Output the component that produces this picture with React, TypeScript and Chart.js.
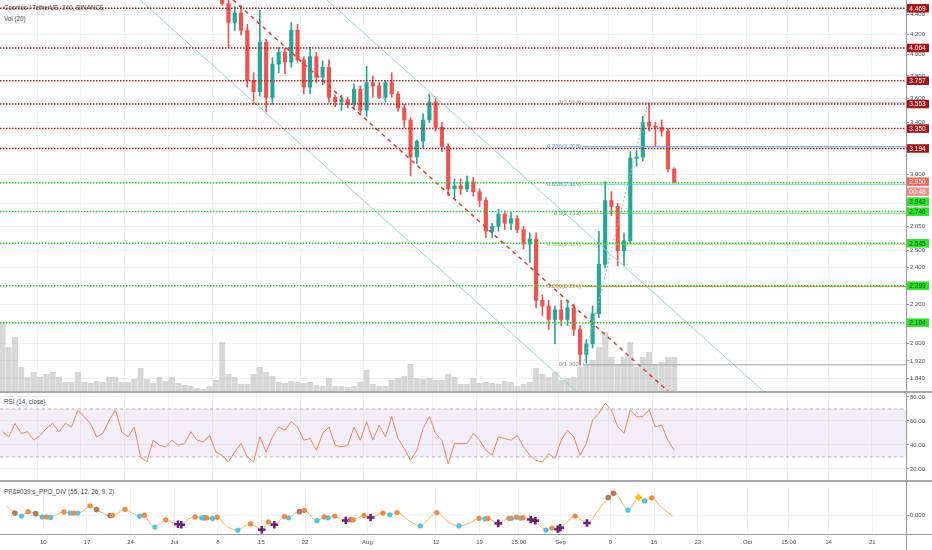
import React, { useEffect, useRef } from "react";
import { Chart, registerables } from "chart.js";

Chart.register(...registerables);

// ---------------- data (days are counted from 2019-06-01) ----------------
const VIEW_START = 3.106; // left edge of the plots
const VIEW_END = 147.42; // right edge of the plots
const xTickDays = [9, 16, 23, 30, 37, 44, 51, 61, 72, 79, 85.3, 92, 100, 107, 114, 122, 128.6, 135, 142];
const xTickLabels = ["10", "17", "24", "Jul", "8", "15", "22", "Aug", "12", "19", "15:00", "Sep", "9", "16", "23", "Oct", "15:00", "14", "21"];

// daily candles from 2019-07-09 (day 38)
const CANDLE_FIRST_DAY = 38;
const opens = [4.65, 4.52, 4.32, 4.42, 4.24, 3.76, 3.66, 4.12, 3.61, 3.91, 4.02, 3.93, 4.24, 3.95, 3.70, 3.98, 3.79, 3.88, 3.61, 3.57, 3.59, 3.55, 3.68, 3.50, 3.74, 3.71, 3.61, 3.74, 3.64, 3.52, 3.42, 3.13, 3.25, 3.42, 3.57, 3.36, 3.21, 2.90, 2.92, 2.90, 2.95, 2.88, 2.82, 2.62, 2.65, 2.73, 2.67, 2.70, 2.63, 2.54, 2.57, 2.22, 2.19, 2.12, 2.17, 2.12, 2.18, 2.07, 1.95, 2.00, 2.15, 2.42, 2.82, 2.78, 2.50, 2.56, 3.12, 3.13, 3.40, 3.37, 3.36, 3.33, 3.04];
const highs = [4.75, 4.60, 4.49, 4.50, 4.30, 3.83, 4.45, 4.15, 3.97, 4.07, 4.06, 4.32, 4.30, 3.98, 4.07, 4.02, 3.94, 3.95, 3.63, 3.63, 3.61, 3.73, 3.71, 3.89, 3.80, 3.74, 3.76, 3.83, 3.66, 3.55, 3.44, 3.26, 3.47, 3.64, 3.60, 3.40, 3.23, 2.97, 2.97, 2.99, 2.98, 2.90, 2.84, 2.67, 2.76, 2.75, 2.74, 2.72, 2.65, 2.61, 2.61, 2.25, 2.22, 2.19, 2.22, 2.22, 2.20, 2.09, 2.02, 2.19, 2.62, 2.95, 2.88, 2.80, 2.61, 3.17, 3.18, 3.45, 3.56, 3.40, 3.42, 3.35, 3.05];
const lows = [4.50, 4.07, 4.24, 4.19, 3.70, 3.55, 3.62, 3.49, 3.55, 3.83, 3.82, 3.88, 3.93, 3.64, 3.64, 3.74, 3.72, 3.57, 3.53, 3.50, 3.52, 3.52, 3.47, 3.45, 3.61, 3.60, 3.57, 3.61, 3.49, 3.36, 2.99, 3.08, 3.20, 3.40, 3.33, 3.17, 2.85, 2.83, 2.86, 2.88, 2.85, 2.78, 2.58, 2.58, 2.62, 2.63, 2.63, 2.61, 2.51, 2.43, 2.18, 2.14, 2.07, 2.00, 2.09, 2.09, 2.04, 1.902, 1.91, 1.98, 2.13, 2.40, 2.72, 2.41, 2.41, 2.54, 3.06, 3.10, 3.33, 3.21, 3.29, 3.02, 2.94];
const closes = [4.52, 4.32, 4.42, 4.24, 3.76, 3.66, 4.12, 3.61, 3.91, 4.02, 3.93, 4.24, 3.95, 3.70, 3.98, 3.79, 3.88, 3.61, 3.57, 3.59, 3.55, 3.68, 3.50, 3.74, 3.71, 3.61, 3.74, 3.64, 3.52, 3.42, 3.13, 3.25, 3.42, 3.57, 3.36, 3.21, 2.90, 2.92, 2.90, 2.95, 2.88, 2.82, 2.62, 2.65, 2.73, 2.67, 2.70, 2.63, 2.54, 2.57, 2.22, 2.19, 2.12, 2.17, 2.12, 2.18, 2.07, 1.95, 2.00, 2.15, 2.42, 2.82, 2.78, 2.50, 2.56, 3.12, 3.13, 3.40, 3.37, 3.36, 3.33, 3.04, 2.95];

// daily volume from 2019-06-04 (day 3)
const VOLUME_FIRST_DAY = 3;
const volumes = [70, 45, 55, 25, 15, 20, 15, 18, 20, 15, 10, 10, 20, 10, 9, 11, 10, 15, 15, 10, 10, 13, 24, 13, 9, 15, 11, 15, 9, 7, 6, 4, 3, 6, 12, 50, 18, 15, 8, 8, 18, 25, 20, 16, 10, 9, 11, 10, 9, 10, 7, 6, 14, 6, 6, 5, 6, 10, 22, 8, 6, 6, 12, 14, 16, 28, 14, 13, 14, 12, 12, 18, 15, 8, 8, 14, 9, 10, 9, 8, 11, 10, 6, 8, 10, 24, 18, 15, 20, 12, 14, 15, 25, 27, 32, 45, 60, 35, 28, 35, 50, 25, 35, 40, 28, 30, 35, 35];

// RSI (14, close), daily from day 3
const RSI_FIRST_DAY = 3;
const rsiValues = [51, 46.8, 58, 49.6, 51, 44, 48, 53.8, 58, 51, 58, 55, 69, 63.6, 58, 46.8, 49.6, 60.8, 69, 51, 46.8, 55, 30, 25.8, 44, 39.8, 38.4, 44, 39.8, 41.2, 51, 44, 42.6, 48, 34.2, 31.4, 25.8, 34.2, 41.2, 30, 25.8, 46.8, 34.2, 46.8, 55, 52.4, 59.4, 55, 44, 45.4, 35.6, 49.6, 55, 39.8, 38.4, 39.8, 55, 44, 59.4, 44, 56.6, 46.8, 63.6, 45.4, 37, 27.2, 35.6, 53.8, 63.6, 49.6, 44, 24.4, 41.2, 41.2, 41.2, 49.6, 44, 35.6, 31.4, 46.8, 45.4, 44, 48, 38.4, 31.4, 27.2, 25.8, 32.8, 28.6, 44, 52.4, 46.8, 31.4, 41.2, 60.8, 66.4, 74.8, 69.2, 55.2, 49.6, 69.2, 63.6, 63.6, 69.2, 55.2, 56.6, 44, 35.6];
const rsiTicks = [20, 40, 60, 80];
const RSI_UPPER = 70;
const RSI_LOWER = 30;

// PPO divergence line and markers
const ppoDays = [3.11, 4.43, 5.50, 6.56, 7.78, 8.84, 9.48, 10.17, 11.07, 12.29, 13.30, 13.88, 14.52, 15.58, 16.49, 17.55, 18.77, 19.72, 20.10, 22.11, 23.28, 24.45, 25.19, 25.94, 26.89, 27.80, 28.64, 29.65, 30.61, 31.14, 32.31, 33.37, 34.43, 35.23, 36.13, 36.88, 38.41, 40.22, 41.33, 42.24, 44.04, 45.10, 46.06, 47.71, 48.34, 49.30, 50.10, 50.89, 51.95, 52.91, 54.08, 54.71, 55.77, 56.73, 57.53, 58.75, 60.45, 61.51, 63.47, 64.59, 65.76, 67.62, 69.48, 70.80, 72.13, 73.99, 75.69, 77.33, 78.92, 79.88, 80.36, 82.00, 83.70, 84.13, 84.92, 85.56, 85.93, 87.21, 87.95, 88.75, 89.65, 90.60, 91.56, 91.93, 93.26, 94.32, 95.38, 96.23, 98.04, 99.63, 100.48, 101.22, 102.02, 102.81, 103.61, 104.51, 105.47, 106.64, 108.13, 109.98];
const ppoValues = [1.10, 0.27, -0.07, 0.43, 0.20, -0.17, -0.17, -0.23, 0.10, 0.40, 0.27, 0.27, 0.27, 0.60, 1.10, 0.67, 0.20, 0.00, 0.00, 0.70, 0.27, -0.07, 0.03, -0.73, -1.33, -0.90, -0.50, -0.80, -1.00, -1.07, -0.40, -0.17, -0.27, -0.27, -0.33, -0.20, -1.23, -1.67, -1.23, -0.97, -1.63, -0.73, -1.07, -0.13, -0.27, 0.20, 0.43, 0.57, -0.07, -0.60, -0.17, -0.27, -0.07, -0.40, -0.57, -0.50, 0.00, -0.23, 0.27, 0.07, 0.33, -0.57, -1.20, -0.40, 0.33, -0.73, -1.20, -0.90, -0.33, -0.40, -0.33, -0.90, -0.33, -0.33, -0.20, -0.30, -0.27, -0.47, -0.60, -1.23, -1.67, -1.43, -1.57, -1.40, -0.57, -0.07, -0.57, -0.87, 0.60, 2.03, 2.53, 2.27, 1.27, 0.60, 1.27, 2.03, 1.67, 2.00, 0.93, -0.07];
const ppoOrange = [[6.56, 0.43], [9.48, -0.17], [12.29, 0.40], [13.88, 0.27], [16.49, 1.10], [20.10, 0.00], [22.11, 0.70], [25.19, 0.03], [28.64, -0.50], [33.37, -0.17], [35.23, -0.27], [36.88, -0.20], [42.24, -0.97], [45.10, -0.73], [47.71, -0.13], [50.89, 0.57], [54.08, -0.17], [55.77, -0.07], [58.75, -0.50], [60.45, 0.00], [63.47, 0.27], [65.76, 0.33], [72.13, 0.33], [78.92, -0.33], [80.36, -0.33], [83.70, -0.33], [84.92, -0.20], [85.93, -0.27], [90.60, -1.43], [94.32, -0.07], [106.64, 2.00]];
const ppoCyan = [[5.50, -0.07], [8.84, -0.17], [10.17, -0.23], [13.30, 0.27], [14.52, 0.27], [24.45, -0.07], [26.89, -1.33], [34.43, -0.27], [36.13, -0.33], [40.22, -1.67], [48.34, -0.27], [52.91, -0.60], [54.71, -0.27], [64.59, 0.07], [69.48, -1.20], [75.69, -1.20], [79.88, -0.40], [84.13, -0.33], [85.56, -0.30], [89.65, -1.67], [102.81, 0.60], [105.47, 1.67]];
const ppoBrown = [[4.43, 0.27], [7.78, 0.20], [17.55, 0.67], [19.72, 0.00], [34.86, -0.27], [50.10, 0.43], [58.33, -0.50], [99.63, 2.03], [100.48, 2.53]];
const ppoCross = [[30.61, -1.00], [31.14, -1.07], [44.04, -1.63], [46.06, -1.07], [57.53, -0.57], [61.51, -0.23], [82.00, -0.90], [87.21, -0.47], [87.95, -0.60], [91.56, -1.57], [91.93, -1.40], [96.23, -0.87]];
const ppoDiamond = [[104.51, 2.03]];
const ppoTicks = [0];

// price axis and drawings
const PRICE_MIN = 1.782;
const PRICE_MAX = 4.559;
const priceTicks = [4.4, 4.2, 4.0, 3.8, 3.6, 3.4, 3.2, 3.0, 2.8, 2.65, 2.5, 2.4, 2.2, 2.0, 1.92, 1.84];
const redLevels = [4.469, 4.064, 3.757, 3.553, 3.350, 3.194];
const greenLevels = [2.942, 2.746, 2.545, 2.299, 2.104];
const COUNTDOWN = "00:48";
const FIB_START_DAY = 95.97;
const fibRatios = ["1", "0.786", "0.618", "0.5", "0.382", "0.236", "0"];
const fibPrices = [3.564, 3.208, 2.929, 2.733, 2.537, 2.294, 1.902];
const channelLower = [[25.41, 4.559], [95.17, 1.778]];
const channelUpper = [[55.19, 4.559], [124.64, 1.787]];
const trendLine = [[40.22, 4.559], [109.67, 1.782]];
const fibTrend = [[95.97, 1.902], [106.3, 3.564]];

// ---------------- styles ----------------
const FONT = "'Liberation Sans', Arial, sans-serif";
const GRID = "rgba(0,0,0,0.055)";
const TEXT = "#4a4e59";
const UP = "#26a69a";
const DOWN = "#ef5350";
const fibColors = ["#8f8f8f", "#5b9ee0", "#3fae8f", "#4caf50", "#8bc34a", "#dd7a3c", "#8f8f8f"];
const fibLineColors = ["rgba(150,150,150,0.6)", "#6aa8e6", "rgba(77,182,172,0.6)", "rgba(102,187,106,0.6)", "rgba(156,204,101,0.6)", "#d98a4a", "#a0a0a0"];

Chart.defaults.font.family = FONT;
Chart.defaults.font.size = 6;
Chart.defaults.color = TEXT;

const pts = (arr: number[][]) => arr.map(([x, y]) => ({ x, y }));

function dayAxis(showLabels: boolean): any {
  return {
    type: "linear",
    min: VIEW_START,
    max: VIEW_END,
    bounds: "data",
    offset: false,
    afterBuildTicks: (s: any) => {
      s.ticks = xTickDays.map((v) => ({ value: v }));
    },
    afterFit: (s: any) => {
      s.height = showLabels ? 15 : 0;
      s.paddingLeft = 0;
      s.paddingRight = 0;
    },
    ticks: {
      display: showLabels,
      autoSkip: false,
      maxRotation: 0,
      padding: 4,
      color: TEXT,
      callback: (_v: any, i: number) => xTickLabels[i],
    },
    grid: { color: GRID, drawTicks: false, offset: false },
    border: { display: false },
  };
}

function rightAxis(extra: any, ticksList: number[], digits: number): any {
  return {
    position: "right",
    bounds: "data",
    ...extra,
    afterBuildTicks: (s: any) => {
      s.ticks = ticksList.map((v) => ({ value: v }));
    },
    afterFit: (s: any) => {
      s.width = 26;
      s.paddingTop = 0;
      s.paddingBottom = 0;
    },
    ticks: { autoSkip: false, padding: 1, color: TEXT, callback: (v: any) => Number(v).toFixed(digits) },
    grid: { color: GRID, tickColor: "#9a9a9a", tickLength: 3 },
    border: { display: false },
  };
}

const hLine = (y: number, color: string, dash: number[], width: number, from = VIEW_START): any => ({
  type: "line",
  data: [
    { x: from, y },
    { x: VIEW_END, y },
  ],
  borderColor: color,
  borderDash: dash,
  borderWidth: width,
  pointRadius: 0,
  order: 0,
  yAxisID: "y",
});

const mainOverlay = {
  id: "mainOverlay",
  afterDatasetsDraw(chart: any) {
    const { ctx, scales } = chart;
    const xs = scales.x;
    const ys = scales.y;
    ctx.save();
    ctx.font = `6px ${FONT}`;
    ctx.textAlign = "right";
    ctx.textBaseline = "middle";
    const xStart = xs.getPixelForValue(FIB_START_DAY) - 2;
    fibRatios.forEach((r, i) => {
      ctx.fillStyle = fibColors[i];
      ctx.fillText(`${r}(${fibPrices[i].toFixed(3)})`, xStart, ys.getPixelForValue(fibPrices[i]));
    });
    ctx.restore();
  },
  afterDraw(chart: any) {
    const { ctx, scales } = chart;
    const ys = scales.y;
    const last = closes[closes.length - 1];
    const lastY = ys.getPixelForValue(last);
    const items: any[] = [
      { y: lastY, text: last.toFixed(3), bg: "#ef6b60", fg: "#ffffff" },
      { y: lastY + 0.01, text: COUNTDOWN, bg: "#f29087", fg: "#ffffff" },
    ];
    redLevels.forEach((v) => items.push({ y: ys.getPixelForValue(v), text: v.toFixed(3), bg: "#a3151a", fg: "#ffffff" }));
    greenLevels.forEach((v) => items.push({ y: ys.getPixelForValue(v), text: v.toFixed(3), bg: "#2ae42a", fg: "#123f12" }));
    items.sort((a, b) => a.y - b.y);
    const H = 8.5;
    let prevBottom = -Infinity;
    const left = chart.chartArea.right;
    ctx.save();
    ctx.font = `6.5px ${FONT}`;
    ctx.textAlign = "center";
    ctx.textBaseline = "middle";
    items.forEach((it) => {
      const top = Math.max(it.y - H / 2, prevBottom + 1.5);
      ctx.fillStyle = it.bg;
      ctx.fillRect(left, top, 23, H);
      ctx.fillStyle = it.fg;
      ctx.fillText(it.text, left + 11.5, top + H / 2 + 0.5);
      prevBottom = top + H;
    });
    ctx.restore();
  },
};

function mainConfig(): any {
  const cx = (i: number) => CANDLE_FIRST_DAY + i + 0.5;
  const candleColors = opens.map((o, i) => (closes[i] >= o ? UP : DOWN));
  const datasets: any[] = [];
  redLevels.forEach((v) => datasets.push(hLine(v, "#b71c1c", [1.5, 1.5], 1.5)));
  greenLevels.forEach((v) => datasets.push(hLine(v, "#22d622", [1.5, 1.5], 1.5)));
  fibPrices.forEach((v, i) => datasets.push(hLine(v, fibLineColors[i], [], 1, FIB_START_DAY)));
  [channelLower, channelUpper].forEach((ln) =>
    datasets.push({ type: "line", data: pts(ln), borderColor: "#8fd8dc", borderWidth: 1, pointRadius: 0, order: 0, yAxisID: "y" })
  );
  datasets.push({ type: "line", data: pts(trendLine), borderColor: "#e53935", borderDash: [4, 4], borderWidth: 1.5, pointRadius: 0, order: 0, yAxisID: "y" });
  datasets.push({ type: "line", data: pts(fibTrend), borderColor: "#b8b8b8", borderDash: [2, 2], borderWidth: 1, pointRadius: 0, order: 0, yAxisID: "y" });
  datasets.push({
    type: "bar",
    data: opens.map((o, i) => ({ x: cx(i), y: [o, closes[i]] })),
    backgroundColor: candleColors,
    barThickness: 3.5,
    minBarLength: 1,
    grouped: false,
    order: 1,
    yAxisID: "y",
  });
  datasets.push({
    type: "bar",
    data: highs.map((h, i) => ({ x: cx(i), y: [lows[i], h] })),
    backgroundColor: candleColors,
    barThickness: 1,
    grouped: false,
    order: 2,
    yAxisID: "y",
  });
  datasets.push({
    type: "bar",
    data: volumes.map((v, i) => ({ x: VOLUME_FIRST_DAY + i + 0.5, y: v })),
    backgroundColor: "rgba(175,175,175,0.5)",
    barPercentage: 0.95,
    categoryPercentage: 1,
    grouped: false,
    order: 5,
    yAxisID: "yVol",
  });
  return {
    type: "line",
    data: { datasets },
    plugins: [mainOverlay],
    options: {
      animation: false,
      responsive: false,
      maintainAspectRatio: false,
      events: [],
      layout: { padding: 0 },
      plugins: { legend: { display: false }, tooltip: { enabled: false } },
      elements: { point: { radius: 0 } },
      scales: {
        x: dayAxis(false),
        y: rightAxis({ type: "logarithmic", min: PRICE_MIN, max: PRICE_MAX }, priceTicks, 3),
        yVol: { type: "linear", display: false, min: 0, max: 392 },
      },
    },
  };
}

function rsiConfig(): any {
  const band = (y: number, fill: any) => ({
    data: [
      { x: VIEW_START, y },
      { x: VIEW_END, y },
    ],
    borderColor: "#b4b4b4",
    borderDash: [3, 3],
    borderWidth: 1,
    pointRadius: 0,
    fill,
    backgroundColor: "rgba(156, 100, 210, 0.11)",
    order: 2,
  });
  return {
    type: "line",
    data: {
      datasets: [
        band(RSI_UPPER, "+1"),
        band(RSI_LOWER, false),
        {
          data: rsiValues.map((v, i) => ({ x: RSI_FIRST_DAY + i + 0.5, y: v })),
          borderColor: "#f2844e",
          borderWidth: 1,
          pointRadius: 0,
          fill: false,
          order: 0,
        },
      ],
    },
    options: {
      animation: false,
      responsive: false,
      maintainAspectRatio: false,
      events: [],
      layout: { padding: 0 },
      plugins: { legend: { display: false }, tooltip: { enabled: false } },
      scales: {
        x: dayAxis(false),
        y: rightAxis({ type: "linear", min: 10, max: 83.33 }, rsiTicks, 2),
      },
    },
  };
}

function ppoConfig(): any {
  const marks = (arr: number[][], style: any) => ({
    data: pts(arr),
    showLine: false,
    order: 0,
    ...style,
  });
  return {
    type: "line",
    data: {
      datasets: [
        {
          data: ppoDays.map((d, i) => ({ x: d, y: ppoValues[i] })),
          borderColor: "#f6b04e",
          borderWidth: 1,
          pointRadius: 0,
          cubicInterpolationMode: "monotone",
          order: 3,
        },
        marks(ppoOrange, { pointRadius: 2.6, pointBackgroundColor: "#f08a45", pointBorderWidth: 0 }),
        marks(ppoCyan, { pointRadius: 2.6, pointBackgroundColor: "#4fc3e8", pointBorderWidth: 0 }),
        marks(ppoBrown, { pointRadius: 2.8, pointBackgroundColor: "#b07a62", pointBorderWidth: 0 }),
        marks(ppoCross, { pointStyle: "cross", pointRadius: 3.8, pointBorderColor: "#6d2478", pointBorderWidth: 2.6 }),
        marks(ppoDiamond, { pointStyle: "rectRot", pointRadius: 4, pointBackgroundColor: "#ffc21a", pointBorderWidth: 0 }),
      ],
    },
    options: {
      animation: false,
      responsive: false,
      maintainAspectRatio: false,
      events: [],
      layout: { padding: 0 },
      plugins: { legend: { display: false }, tooltip: { enabled: false } },
      scales: {
        x: dayAxis(true),
        y: rightAxis({ type: "linear", min: -2.23, max: 3.17 }, ppoTicks, 3),
      },
    },
  };
}

const legendStyle: React.CSSProperties = {
  position: "absolute",
  left: 4,
  fontSize: 6.3,
  lineHeight: "8px",
  color: "#43464f",
  whiteSpace: "nowrap",
  fontFamily: FONT,
};

const lineStyle = (s: React.CSSProperties): React.CSSProperties => ({ position: "absolute", background: "#a8a8a8", ...s });

export default function App() {
  const mainRef = useRef<HTMLCanvasElement>(null);
  const rsiRef = useRef<HTMLCanvasElement>(null);
  const ppoRef = useRef<HTMLCanvasElement>(null);

  useEffect(() => {
    document.body.style.margin = "0";
    const charts = [
      new Chart(mainRef.current as HTMLCanvasElement, mainConfig()),
      new Chart(rsiRef.current as HTMLCanvasElement, rsiConfig()),
      new Chart(ppoRef.current as HTMLCanvasElement, ppoConfig()),
    ];
    return () => charts.forEach((c) => c.destroy());
  }, []);

  return (
    <div style={{ position: "relative", width: 932, height: 550, overflow: "hidden", background: "#ffffff" }}>
      <div style={{ ...legendStyle, top: 4 }}>Cosmos / TetherUS, 240, BINANCE</div>
      <div style={{ ...legendStyle, top: 15 }}>Vol (20)</div>
      <div style={{ ...legendStyle, top: 398 }}>RSI (14, close)</div>
      <div style={{ ...legendStyle, top: 487.5 }}>PP&amp;#039;s_PPO_DIV (55, 12, 26, 9, 2)</div>
      <canvas ref={mainRef} width={932} height={392} style={{ position: "absolute", left: 0, top: 0, width: 932, height: 392 }} />
      <canvas ref={rsiRef} width={932} height={88} style={{ position: "absolute", left: 0, top: 393, width: 932, height: 88 }} />
      <canvas ref={ppoRef} width={932} height={69} style={{ position: "absolute", left: 0, top: 481, width: 932, height: 69 }} />
      <div style={lineStyle({ left: 0, top: 391, width: 932, height: 2 })} />
      <div style={lineStyle({ left: 0, top: 480, width: 932, height: 2 })} />
      <div style={lineStyle({ left: 0, top: 534, width: 932, height: 1, background: "#9a9a9a" })} />
      <div style={lineStyle({ left: 906, top: 0, width: 1, height: 550, background: "#9a9a9a" })} />
    </div>
  );
}
